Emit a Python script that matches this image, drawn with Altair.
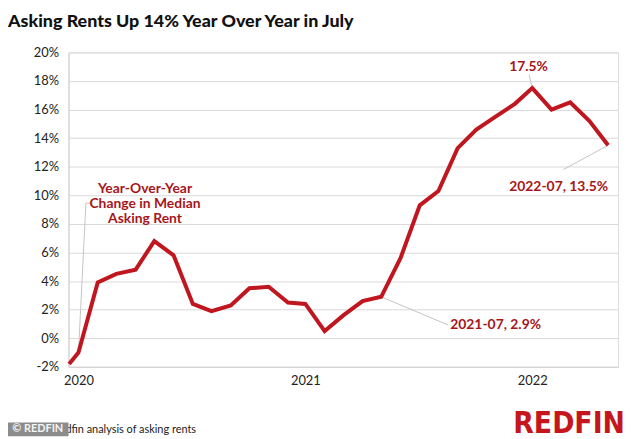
import altair as alt
import pandas as pd

# ---- data ----
months = ["2020-02-15", "2020-03-01", "2020-04-01", "2020-05-01", "2020-06-01", "2020-07-01",
          "2020-08-01", "2020-09-01", "2020-10-01", "2020-11-01", "2020-12-01", "2021-01-01",
          "2021-02-01", "2021-03-01", "2021-04-01", "2021-05-01", "2021-06-01", "2021-07-01",
          "2021-08-01", "2021-09-01", "2021-10-01", "2021-11-01", "2021-12-01", "2022-01-01",
          "2022-02-01", "2022-03-01", "2022-04-01", "2022-05-01", "2022-06-01", "2022-07-01"]
yoy = [-1.8, -1.0, 3.9, 4.5, 4.8, 6.8, 5.8, 2.4, 1.9, 2.3,
       3.5, 3.6, 2.5, 2.4, 0.5, 1.6, 2.6, 2.9, 5.6, 9.3,
       10.3, 13.3, 14.6, 15.5, 16.4, 17.5, 16.0, 16.5, 15.2, 13.5]
y_ticks = [-2, 0, 2, 4, 6, 8, 10, 12, 14, 16, 18, 20]
x_tick_dates = ["2020-03-01", "2021-03-01", "2022-03-01"]

# annotation labels
ann_labels = ["17.5%", "2021-07, 2.9%", "2022-07, 13.5%", "Year-Over-Year\nChange in Median\nAsking Rent"]
ann_dates = ["2022-02-23", "2021-10-20", "2022-07-01", "2020-06-16"]
ann_values = [19.0, 0.95, 10.6, 10.43]
ann_align = ["center", "left", "right", "center"]

# leader lines (start -> end)
lead_x1 = ["2022-03-01", "2021-07-01", "2022-07-01", "2020-03-01", "2020-03-13"]
lead_y1 = [17.5, 2.9, 13.5, -1.0, 9.46]
lead_x2 = ["2022-02-24", "2021-10-17", "2022-04-20", "2020-03-13", "2020-03-24"]
lead_y2 = [18.45, 0.92, 11.8, 9.46, 9.46]

title_text = "Asking Rents Up 14% Year Over Year in July"
source_text = "Source: Redfin analysis of asking rents"

RED = "#c0161f"
DARKRED = "#a6161b"

df = pd.DataFrame({"month": pd.to_datetime(months), "yoy": yoy})
ann = pd.DataFrame({"month": pd.to_datetime(ann_dates), "yoy": ann_values,
                    "label": ann_labels, "align": ann_align})
leads = pd.DataFrame({"x1": pd.to_datetime(lead_x1), "y1": lead_y1,
                      "x2": pd.to_datetime(lead_x2), "y2": lead_y2})


def dt(s):
    y, m, d = (int(p) for p in s.split("-"))
    return alt.DateTime(year=y, month=m, date=d)


xscale = alt.Scale(domain=[dt("2020-02-14"), dt("2022-07-17")])
yscale = alt.Scale(domain=[-2, 20], nice=False, zero=False)

x_axis = alt.Axis(values=[dt(s) for s in x_tick_dates], format="%Y", grid=False,
                  ticks=False, labelFontSize=13, labelFont="Lato", labelColor="#222",
                  labelPadding=8, domainColor="#d0d0d0", labelOverlap=False)
y_axis = alt.Axis(values=y_ticks, labelExpr="datum.value + '%'", ticks=False,
                  grid=True, gridColor="#d9d9d9", gridWidth=1, labelFontSize=13,
                  labelFont="Lato", labelColor="#222", labelPadding=10,
                  domainColor="#d0d0d0", labelOverlap=False, tickCount=12)


def X(f):
    return alt.X(f, scale=xscale, title=None, axis=x_axis)


def Y(f):
    return alt.Y(f, scale=yscale, title=None, axis=y_axis)


line = alt.Chart(df).mark_line(color=RED, strokeWidth=4).encode(x=X("month:T"), y=Y("yoy:Q"))

rules = alt.Chart(leads).mark_rule(color="#c4c4c4", strokeWidth=1).encode(
    x=X("x1:T"), y=Y("y1:Q"), x2="x2:T", y2="y2:Q")

layers = [rules, line]
for al in ["center", "left", "right"]:
    sub = ann[ann["align"] == al]
    layers.append(alt.Chart(sub).mark_text(align=al, baseline="middle", font="Lato",
                                           fontWeight="bold", fontSize=14, color=DARKRED,
                                           lineBreak="\n", lineHeight=15).encode(
        x=X("month:T"), y=Y("yoy:Q"), text="label:N"))

src = pd.DataFrame({"t": [source_text]})
footer = alt.Chart(src).mark_text(align="left", baseline="alphabetic", font="Liberation Sans Narrow, Lato",
                                  fontSize=11, color="#222").encode(
    x=alt.value(-54), y=alt.value(384), text="t:N")
box = alt.Chart(src).mark_rect(color="#8c8c8c").encode(
    x=alt.value(-61), x2=alt.value(0), y=alt.value(373), y2=alt.value(387))
wm = alt.Chart(pd.DataFrame({"t": ["© REDFIN"]})).mark_text(
    align="center", baseline="middle", font="Lato", fontWeight="bold", fontSize=11,
    color="#f4f4f4").encode(x=alt.value(-31), y=alt.value(380), text="t:N")
logo = alt.Chart(pd.DataFrame({"t": ["REDFIN"]})).mark_text(
    align="right", baseline="alphabetic", font="Liberation Sans Narrow, DejaVu Sans Condensed",
    fontWeight="bold", fontSize=30, color="#c4161c").encode(
    x=alt.value(561), y=alt.value(384), text="t:N")

chart = alt.layer(*layers, footer, box, wm, logo).properties(
    width=554, height=317,
    title=alt.TitleParams(title_text, anchor="start", frame="group", dx=-61, dy=7, font="Lato",
                          fontSize=18, fontWeight=900, color="#111", baseline="alphabetic",
                          offset=9),
    autosize=alt.AutoSizeParams(type="none"),
    padding={"left": 61, "top": 43, "right": 8, "bottom": 71},
).configure_view(stroke=None).configure(background="white")

chart.save("out.html", embed_options={"renderer": "svg", "actions": False})
